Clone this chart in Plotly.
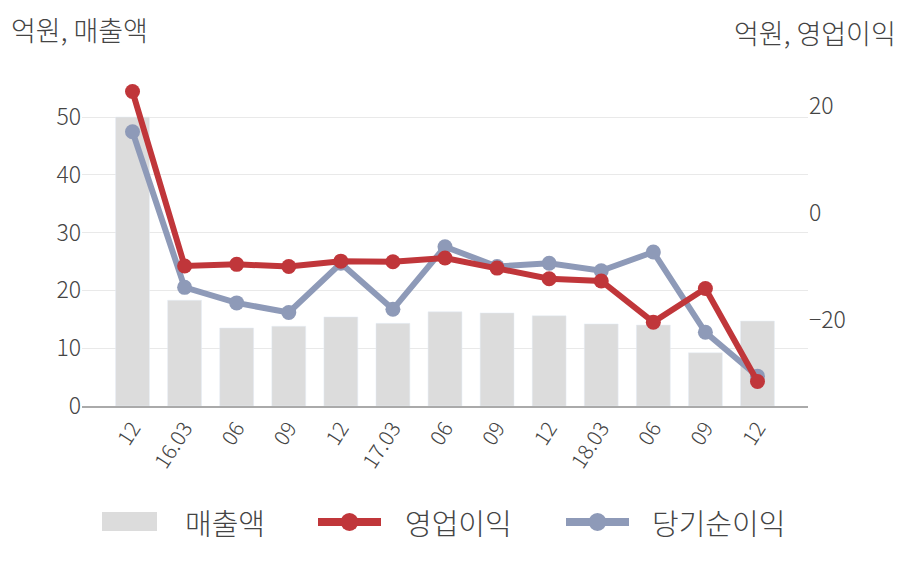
import plotly.graph_objects as go

tick_labels = ["12", "16.03", "06", "09", "12", "17.03", "06", "09", "12", "18.03", "06", "09", "12"]
sales = [50.0, 18.3, 13.5, 13.8, 15.4, 14.3, 16.3, 16.1, 15.6, 14.2, 14.0, 9.2, 14.7]
op_income = [22.7, -9.9, -9.6, -10.0, -9.0, -9.1, -8.4, -10.3, -12.3, -12.7, -20.4, -14.1, -31.5]
net_income = [15.2, -13.9, -16.8, -18.6, -9.4, -18.0, -6.3, -10.0, -9.4, -10.8, -7.3, -22.3, -30.5]
series_names = ["매출액", "영업이익", "당기순이익"]

FONT = "Noto Sans CJK KR"
TXT = "#444444"
RED = "#c0363a"
BLUE = "#8e9ab8"
BAR = "#dcdcdc"

# plot area in pixels
L, R, T, B = 82, 808, 80, 406
PW, PH = R - L, B - T


def px(xp):
    return (xp - L) / PW


def py(yp):
    return (B - yp) / PH


x = list(range(len(tick_labels)))

fig = go.Figure()
fig.add_trace(go.Bar(x=x, y=sales, name=series_names[0], marker_color=BAR, width=0.65, yaxis="y"))
fig.add_trace(go.Scatter(x=x, y=net_income, name=series_names[2], mode="lines+markers",
                         line=dict(color=BLUE, width=6), marker=dict(size=15, color=BLUE), yaxis="y2"))
fig.add_trace(go.Scatter(x=x, y=op_income, name=series_names[1], mode="lines+markers",
                         line=dict(color=RED, width=6), marker=dict(size=15, color=RED), yaxis="y2"))

# custom legend (decoration in paper coordinates)
shapes = []
annotations = []
LY = 522
shapes.append(dict(type="rect", xref="paper", yref="paper", x0=px(102), x1=px(157), y0=py(531), y1=py(512),
                   fillcolor=BAR, line=dict(width=0)))
for (x0, x1, col) in [(318, 381, RED), (566, 629, BLUE)]:
    shapes.append(dict(type="line", xref="paper", yref="paper", x0=px(x0), x1=px(x1), y0=py(LY), y1=py(LY),
                       line=dict(color=col, width=8)))
    cx = (x0 + x1) / 2
    shapes.append(dict(type="circle", xref="paper", yref="paper", x0=px(cx - 9), x1=px(cx + 9),
                       y0=py(LY + 9), y1=py(LY - 9), fillcolor=col, line=dict(width=0)))
for name, xs in zip(series_names, [183, 403, 650]):
    annotations.append(dict(text=name, xref="paper", yref="paper", x=px(xs), y=py(LY), xanchor="left",
                            yanchor="middle", showarrow=False, font=dict(size=29, color=TXT, family=FONT, weight=300)))

annotations.append(dict(text="억원, 매출액", xref="paper", yref="paper", x=px(9), y=py(29),
                        xanchor="left", yanchor="middle", showarrow=False,
                        font=dict(size=27, color=TXT, family=FONT, weight=300)))
annotations.append(dict(text="억원, 영업이익", xref="paper", yref="paper", x=px(898), y=py(33),
                        xanchor="right", yanchor="middle", showarrow=False,
                        font=dict(size=27, color=TXT, family=FONT, weight=300)))

fig.update_layout(
    width=908, height=580,
    margin=dict(l=L, r=908 - R, t=T, b=580 - B),
    paper_bgcolor="white", plot_bgcolor="white",
    font=dict(family=FONT, color=TXT, weight=300),
    showlegend=False,
    bargap=0.35,
    xaxis=dict(tickmode="array", tickvals=x, ticktext=tick_labels, range=[-0.97, 12.97],
               tickangle=-57, tickfont=dict(size=21, color=TXT, weight=300), showgrid=False,
               showline=True, linecolor="#aaaaaa", linewidth=1.5, ticks="", zeroline=False),
    yaxis=dict(range=[0, PH / 5.78], tickvals=[0, 10, 20, 30, 40, 50],
               tickfont=dict(size=23, color=TXT, weight=300),
               showgrid=True, gridcolor="#e9e9e9", gridwidth=1, zeroline=False, showline=False, ticks=""),
    yaxis2=dict(range=[-(B - 213) / 5.35, (213 - T) / 5.35], overlaying="y", side="right", tickvals=[-20, 0, 20],
                tickfont=dict(size=23, color=TXT, weight=300), showgrid=False, zeroline=False,
                showline=False, ticks=""),
    shapes=shapes,
    annotations=annotations,
)

fig.write_html("out.html")
